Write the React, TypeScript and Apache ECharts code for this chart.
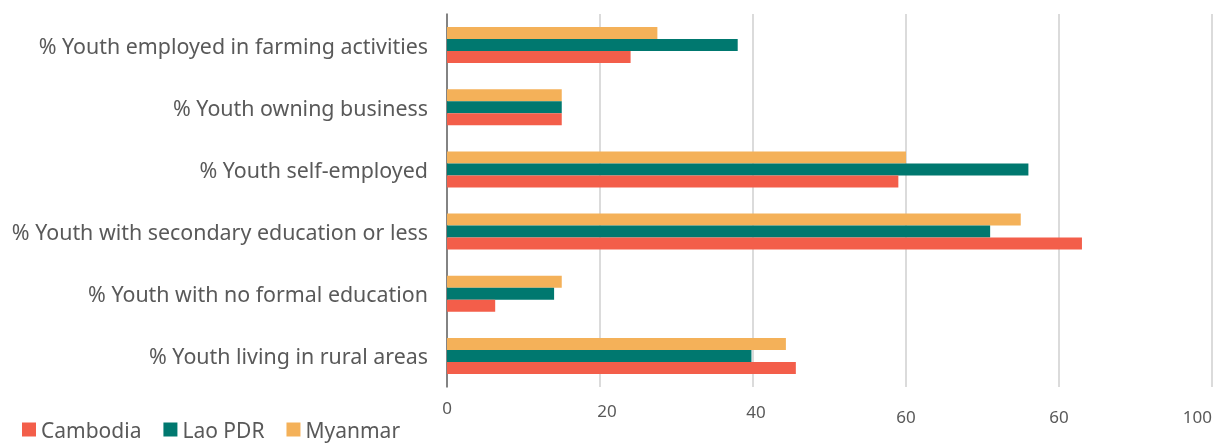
import React, { useEffect, useRef } from "react";
import * as echarts from "echarts";

const categories = [
  "% Youth employed in farming activities",
  "% Youth owning business",
  "% Youth self-employed",
  "% Youth with secondary education or less",
  "% Youth with no formal education",
  "% Youth living in rural areas",
];
const cambodia = [24, 15, 59, 83, 6.3, 45.6];
const laoPDR = [38, 15, 76, 71, 14, 39.8];
const myanmar = [27.5, 15, 60, 75, 15, 44.3];
const xTickLabels = ["0", "20", "40", "60", "60", "100"];

const FONT = "Noto Sans";
const TEXT = "#595959";

export default function App() {
  const ref = useRef<HTMLDivElement>(null);
  useEffect(() => {
    if (!ref.current) return;
    const chart = echarts.init(ref.current, null, { renderer: "svg" });
    const tickRich: Record<string, any> = {};
    const offs = [
      [0, 0],
      [3, 14],
      [4, 6],
      [9, 0],
      [9, 0],
      [9, 0],
    ];
    offs.forEach((o, i) => {
      tickRich["t" + i] = {
        fontFamily: FONT,
        fontSize: 17,
        color: TEXT,
        padding: [o[0], 0, 0, o[1]],
      };
    });
    chart.setOption({
      animation: false,
      grid: { left: 447, right: 2, top: 14, bottom: 58 },
      legend: {
        data: ["Cambodia", "Lao PDR", "Myanmar"],
        left: 22,
        top: 419,
        padding: 0,
        itemWidth: 14,
        itemHeight: 14,
        itemGap: 22,
        icon: "rect",
        textStyle: { fontFamily: FONT, fontSize: 21, color: TEXT },
      },
      xAxis: {
        type: "value",
        min: 0,
        max: 100,
        interval: 20,
        axisLine: { show: false },
        axisTick: { show: false },
        splitLine: { show: true, lineStyle: { color: "#cfcfcf", width: 1.5 } },
        axisLabel: {
          margin: 12,
          alignMaxLabel: "right",
          formatter: (_v: number, i: number) => `{t${i}|${xTickLabels[i]}}`,
          rich: tickRich,
        },
      },
      yAxis: {
        type: "category",
        data: categories,
        inverse: true,
        axisLine: { show: true, lineStyle: { color: "#666666", width: 1.5 } },
        axisTick: { show: false },
        axisLabel: {
          margin: 19,
          fontFamily: FONT,
          fontSize: 21.4,
          color: TEXT,
        },
      },
      series: [
        {
          name: "Myanmar",
          type: "bar",
          data: myanmar,
          barWidth: 12,
          barGap: "0%",
          itemStyle: { color: "#F4B159" },
        },
        {
          name: "Lao PDR",
          type: "bar",
          data: laoPDR,
          barWidth: 12,
          barGap: "0%",
          itemStyle: { color: "#00786F" },
        },
        {
          name: "Cambodia",
          type: "bar",
          data: cambodia,
          barWidth: 12,
          barGap: "0%",
          itemStyle: { color: "#F35E4A" },
        },
      ],
    });
    return () => chart.dispose();
  }, []);
  return (
    <div
      ref={ref}
      style={{ position: "fixed", left: 0, top: 0, width: 1215, height: 445 }}
    />
  );
}
